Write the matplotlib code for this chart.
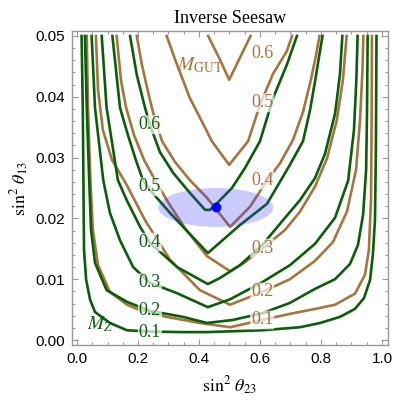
import matplotlib
matplotlib.use("Agg")
import matplotlib.pyplot as plt
from matplotlib.patches import Ellipse

plt.rcParams['mathtext.fontset'] = 'stix'

# contour lines: M_Z (green) and M_GUT (brown)
mz_01_x = [0.015, 0.019, 0.021, 0.023, 0.030, 0.043, 0.059, 0.108, 0.164, 0.239, 0.338, 0.426,
           0.607, 0.731, 0.797, 0.862, 0.911, 0.941, 0.961, 0.970, 0.977, 0.980, 0.982]
mz_01_y = [0.0500, 0.0382, 0.0263, 0.0148, 0.0099, 0.0066, 0.0046, 0.0028, 0.0016, 0.0014, 0.0013, 0.0013,
           0.0016, 0.0021, 0.0028, 0.0038, 0.0051, 0.0069, 0.0099, 0.0140, 0.0197, 0.0312, 0.0500]
mz_02_x = [0.026, 0.032, 0.040, 0.046, 0.059, 0.097, 0.163, 0.207, 0.239, 0.348, 0.426,
           0.511, 0.607, 0.698, 0.780, 0.846, 0.895, 0.921, 0.938, 0.948, 0.951, 0.953]
mz_02_y = [0.0500, 0.0382, 0.0263, 0.0181, 0.0127, 0.0082, 0.0063, 0.0054, 0.0048, 0.0038, 0.0028,
           0.0033, 0.0044, 0.0061, 0.0084, 0.0100, 0.0125, 0.0156, 0.0206, 0.0280, 0.0378, 0.0500]
mz_03_x = [0.048, 0.059, 0.086, 0.108, 0.141, 0.184, 0.239, 0.328, 0.429,
           0.502, 0.607, 0.698, 0.780, 0.846, 0.889, 0.908, 0.916, 0.920]
mz_03_y = [0.0500, 0.0382, 0.0263, 0.0209, 0.0164, 0.0120, 0.0094, 0.0077, 0.0054,
           0.0067, 0.0095, 0.0123, 0.0158, 0.0201, 0.0262, 0.0345, 0.0428, 0.0500]
mz_04_x = [0.081, 0.097, 0.134, 0.163, 0.207, 0.239, 0.328, 0.429,
           0.469, 0.534, 0.607, 0.682, 0.731, 0.780, 0.813, 0.846, 0.862, 0.870]
mz_04_y = [0.0500, 0.0382, 0.0263, 0.0230, 0.0186, 0.0160, 0.0120, 0.0092,
           0.0102, 0.0123, 0.0156, 0.0201, 0.0230, 0.0266, 0.0306, 0.0372, 0.0436, 0.0500]
mz_05_x = [0.116, 0.141, 0.167, 0.193, 0.216, 0.239, 0.305, 0.380, 0.429,
           0.534, 0.623, 0.698, 0.741, 0.764, 0.780, 0.793, 0.805]
mz_05_y = [0.0500, 0.0382, 0.0337, 0.0296, 0.0263, 0.0247, 0.0209, 0.0169, 0.0143,
           0.0189, 0.0224, 0.0288, 0.0327, 0.0378, 0.0424, 0.0464, 0.0500]
mz_06_x = [0.174, 0.196, 0.223, 0.239, 0.272, 0.315, 0.370, 0.420,
           0.436, 0.469, 0.508, 0.551, 0.600, 0.643, 0.689, 0.721]
mz_06_y = [0.0500, 0.0436, 0.0382, 0.0354, 0.0309, 0.0275, 0.0242, 0.0214,
           0.0214, 0.0230, 0.0250, 0.0283, 0.0327, 0.0398, 0.0454, 0.0500]

gut_01_x = [0.032, 0.036, 0.044, 0.052, 0.069, 0.108, 0.164, 0.207, 0.294, 0.403, 0.502,
            0.607, 0.698, 0.780, 0.846, 0.911, 0.944, 0.957, 0.964, 0.966, 0.967]
gut_01_y = [0.0500, 0.0382, 0.0263, 0.0181, 0.0123, 0.0079, 0.0058, 0.0049, 0.0038, 0.0028, 0.0021,
            0.0033, 0.0043, 0.0051, 0.0058, 0.0076, 0.0107, 0.0148, 0.0230, 0.0362, 0.0500]
gut_02_x = [0.062, 0.069, 0.085, 0.115, 0.163, 0.223, 0.305, 0.403, 0.502,
            0.607, 0.698, 0.780, 0.839, 0.885, 0.915, 0.928, 0.936, 0.939]
gut_02_y = [0.0500, 0.0411, 0.0345, 0.0296, 0.0255, 0.0197, 0.0132, 0.0082, 0.0058,
            0.0079, 0.0100, 0.0130, 0.0161, 0.0211, 0.0280, 0.0362, 0.0444, 0.0500]
gut_03_x = [0.130, 0.144, 0.161, 0.187, 0.220, 0.256, 0.298, 0.354, 0.426, 0.502,
            0.551, 0.607, 0.682, 0.731, 0.780, 0.820, 0.852, 0.872, 0.884]
gut_03_y = [0.0500, 0.0428, 0.0382, 0.0337, 0.0296, 0.0263, 0.0227, 0.0184, 0.0138, 0.0113,
            0.0128, 0.0150, 0.0181, 0.0211, 0.0252, 0.0299, 0.0362, 0.0428, 0.0500]
gut_04_x = [0.196, 0.213, 0.239, 0.256, 0.279, 0.321, 0.370, 0.426, 0.502,
            0.567, 0.616, 0.666, 0.708, 0.741, 0.767, 0.784, 0.795]
gut_04_y = [0.0500, 0.0452, 0.0395, 0.0362, 0.0327, 0.0293, 0.0263, 0.0234, 0.0186,
            0.0219, 0.0257, 0.0291, 0.0329, 0.0375, 0.0428, 0.0469, 0.0500]
gut_05_x = [0.294, 0.327, 0.370, 0.409, 0.442, 0.499, 0.561, 0.600, 0.643, 0.688, 0.705]
gut_05_y = [0.0500, 0.0454, 0.0398, 0.0360, 0.0327, 0.0288, 0.0327, 0.0387, 0.0438, 0.0475, 0.0500]
gut_06_x = [0.430, 0.466, 0.499, 0.534, 0.569]
gut_06_y = [0.0500, 0.0464, 0.0428, 0.0464, 0.0500]

levels = ["0.1", "0.2", "0.3", "0.4", "0.5", "0.6"]
mz_curves = [(mz_01_x, mz_01_y), (mz_02_x, mz_02_y), (mz_03_x, mz_03_y),
             (mz_04_x, mz_04_y), (mz_05_x, mz_05_y), (mz_06_x, mz_06_y)]
gut_curves = [(gut_01_x, gut_01_y), (gut_02_x, gut_02_y), (gut_03_x, gut_03_y),
              (gut_04_x, gut_04_y), (gut_05_x, gut_05_y), (gut_06_x, gut_06_y)]

# where the level numbers sit
mz_label_x = [0.239, 0.239, 0.239, 0.239, 0.239, 0.239]
mz_label_y = [0.0013, 0.0048, 0.0094, 0.0161, 0.0252, 0.0354]
gut_label_x = [0.607, 0.607, 0.607, 0.607, 0.607, 0.607]
gut_label_y = [0.0033, 0.0079, 0.0151, 0.0263, 0.0390, 0.0472]

# best fit point and its region
best_fit = (0.455, 0.0218)
fit_width, fit_height = 0.377, 0.0064

green = '#0b5d0b'
brown = '#a6753f'

fig = plt.figure(figsize=(3.99, 4.08), dpi=100)
ax = fig.add_axes([72 / 399, 1 - 345 / 408, 316 / 399, 314 / 408])

for cx, cy in gut_curves:
    ax.plot(cx, cy, color=brown, lw=1.9, solid_joinstyle='round', zorder=2)
for cx, cy in mz_curves:
    ax.plot(cx, cy, color=green, lw=1.9, solid_joinstyle='round', zorder=3)

box = dict(boxstyle='round,pad=0.05', fc='white', ec='none', alpha=0.7)
for lab, lx, ly in zip(levels, mz_label_x, mz_label_y):
    ax.text(lx, ly, lab, color=green, fontsize=13, family='Liberation Serif',
            ha='center', va='center', bbox=box, zorder=4)
for lab, lx, ly in zip(levels, gut_label_x, gut_label_y):
    ax.text(lx, ly, lab, color=brown, fontsize=13, family='Liberation Serif',
            ha='center', va='center', bbox=box, zorder=4)

ax.text(0.403, 0.0452, r'$M_{\mathrm{GUT}}$', color=brown, fontsize=14, ha='center', va='center')
ax.text(0.078, 0.0026, r'$M_Z$', color=green, fontsize=14, ha='center', va='center')

ax.add_patch(Ellipse(best_fit, fit_width, fit_height, facecolor=(0.2, 0.2, 1.0, 0.25),
                     edgecolor='none', zorder=5))
ax.plot(*best_fit, 'o', color='#0000ff', ms=6, zorder=6)

ax.set_xlim(-0.0164, 1.0197)
ax.set_ylim(-0.00082, 0.05082)
ax.set_xticks([0.0, 0.2, 0.4, 0.6, 0.8, 1.0])
ax.set_xticks([i * 0.05 for i in range(21)], minor=True)
ax.set_yticks([0.00, 0.01, 0.02, 0.03, 0.04, 0.05])
ax.set_yticks([i * 0.002 for i in range(26)], minor=True)
ax.set_xticklabels(['0.0', '0.2', '0.4', '0.6', '0.8', '1.0'], family='Liberation Sans', fontsize=11)
ax.set_yticklabels(['0.00', '0.01', '0.02', '0.03', '0.04', '0.05'], family='Liberation Sans', fontsize=11)
ax.tick_params(which='both', direction='in', top=True, right=True, color='#999999', width=0.8)
ax.tick_params(which='major', length=4.5, pad=5)
ax.tick_params(which='minor', length=2.3)
for sp in ax.spines.values():
    sp.set_color('#999999')
    sp.set_linewidth(1.0)

ax.set_xlabel(r'$\sin^2\,\theta_{23}$', fontsize=13, labelpad=6)
ax.set_ylabel(r'$\sin^2\,\theta_{13}$', fontsize=13, labelpad=3)
ax.set_title('Inverse Seesaw', family='Liberation Serif', fontsize=13, pad=6)

fig.savefig('out.png', dpi=100)
